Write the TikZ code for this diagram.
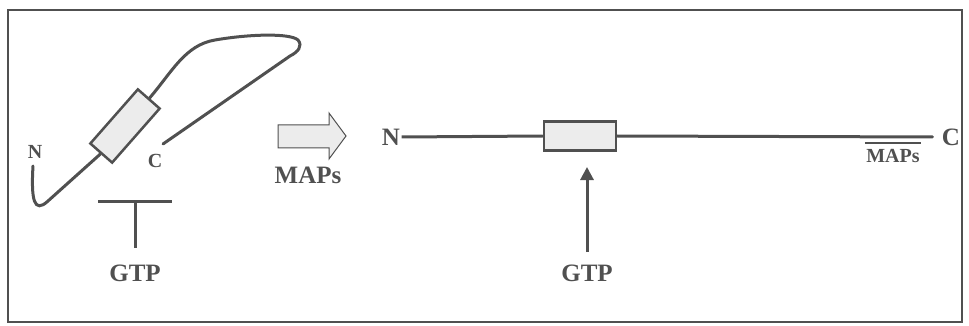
\documentclass[tikz,border=0pt]{standalone}
\usepackage{fontspec}
\setmainfont{Liberation Serif}
\usetikzlibrary{arrows.meta,calc}
\definecolor{ink}{HTML}{505050}
\definecolor{domainfill}{HTML}{ECECEC}
\newcommand{\bigtext}{\bfseries\fontsize{25}{27}\selectfont}
\newcommand{\smalltext}{\bfseries\fontsize{20}{22}\selectfont}

\begin{document}
\begin{tikzpicture}[x=1pt,y=-1pt,color=ink,line width=3pt,
  lab/.style={font=\bigtext,inner sep=0pt},
  slab/.style={font=\smalltext,inner sep=0pt},
  gbox/.style={draw,fill=domainfill,line width=2.5pt,minimum width=72pt,minimum height=29pt,inner sep=0pt}]
  \useasboundingbox (0,0) rectangle (969,326);
  \draw[line width=2.5pt] (8,10) rectangle (962,322);
  % folded state: N and C ends close together
  \node[gbox,rotate=48.7] (fold) at (125,126) {};
  \node[slab] (nleft) at (35,152) {N};
  \node[slab] (cleft) at (155,161) {C};
  \coordinate (nend) at (33,166);
  \coordinate (cend) at (163,144);
  \draw[line cap=round] (nend) .. controls (31,200) and (34,214) .. (48,201) -- (fold.west);
  \draw[line cap=round] (fold.east) .. controls (172,72) and (185,45) .. (215,40)
    .. controls (250,34) and (290,33) .. (298,40)
    .. controls (303,46) and (298,52) .. (290,56) -- (cend);
  % blocked GTP site
  \coordinate (barl) at (98,201);
  \coordinate (barr) at (172,201);
  \coordinate (barm) at (135,201);
  \node[lab] (gtpleft) at (135,273) {GTP};
  \draw (barl) -- (barr);
  \draw (barm) -- ($(gtpleft.north)+(0,-15)$);
  % MAPs open the molecule
  \draw[line width=1pt,fill=domainfill] (278,125) -- (329,125) -- (329,113) -- (346,136)
    -- (329,159) -- (329,148) -- (278,148) -- cycle;
  \node[lab] (maps) at (308,175) {MAPs};
  % extended state
  \node[lab] (nright) at (391,137) {N};
  \node[lab] (cright) at (951,137) {C};
  \node[gbox] (open) at (580,136) {};
  \draw (nright.east) -- (open.west);
  \draw[line cap=round,shorten >=8pt] (open.east) -- (cright.west);
  \node[slab] (mapsbar) at (893,156) {MAPs};
  \draw[line width=1.8pt] ([yshift=5pt]mapsbar.north west) -- ([yshift=5pt]mapsbar.north east);
  \node[lab] (gtpright) at (587,273) {GTP};
  \coordinate (site) at (587,167);
  \draw[-{Triangle[length=13pt,width=13pt]}] ($(gtpright.north)+(0,-11)$) -- (site);
\end{tikzpicture}
\end{document}
